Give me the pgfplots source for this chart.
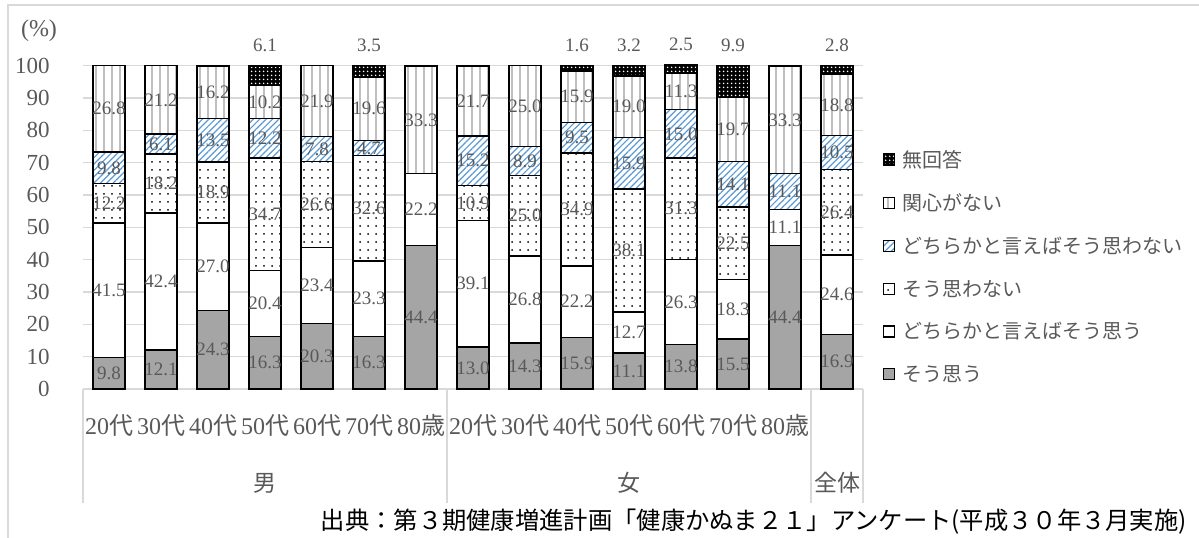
\documentclass[border=0pt]{standalone}
\usepackage{pgfplots}
\pgfplotsset{compat=1.18}
\usepackage{pgfplotstable}
\usetikzlibrary{patterns.meta}
\usepackage{fontspec}
\setmainfont{Liberation Serif}
\newfontfamily\cjk{Noto Sans CJK JP}

\definecolor{labgray}{HTML}{595959}
\definecolor{gridgray}{HTML}{D9D9D9}
\definecolor{solidgray}{HTML}{A5A5A5}
\definecolor{hatchblue}{HTML}{5B9BD5}
\definecolor{linegray}{HTML}{BFBFBF}

\newcommand\fsz[1]{\fontsize{#1bp}{#1bp}\selectfont}

% columns: そう思う, どちらかと言えばそう思う, そう思わない,
%          どちらかと言えばそう思わない, 関心がない, 無回答
\pgfplotstableread{
x  s1    s2    s3    s4    s5    s6
0  9.8   41.5  12.2  9.8   26.8  0
1  12.1  42.4  18.2  6.1   21.2  0
2  24.3  27.0  18.9  13.5  16.2  0
3  16.3  20.4  34.7  12.2  10.2  6.1
4  20.3  23.4  26.6  7.8   21.9  0
5  16.3  23.3  32.6  4.7   19.6  3.5
6  44.4  22.2  0     0     33.3  0
7  13.0  39.1  10.9  15.2  21.7  0
8  14.3  26.8  25.0  8.9   25.0  0
9  15.9  22.2  34.9  9.5   15.9  1.6
10 11.1  12.7  38.1  15.9  19.0  3.2
11 13.8  26.3  31.3  15.0  11.3  2.5
12 15.5  18.3  22.5  14.1  19.7  9.9
13 44.4  11.1  0     11.1  33.3  0
14 16.9  24.6  26.4  10.5  18.8  2.8
}\data

\pgfplotsset{
  hidezero/.style={
    nodes near coords={\pgfmathfloatifflags{\pgfplotspointmeta}{0}{}{\pgfmathprintnumber[fixed,fixed zerofill,precision=1]{\pgfplotspointmeta}}},
  },
  % stacked labels sit at the middle of their segment
  midlabel/.style={
    hidezero,
    nodes near coords style={font=\fsz{19}, text=labgray, anchor=center, inner sep=0pt},
  },
  % the no-answer values are written above the bar
  toplabel/.style={
    hidezero,
    visualization depends on=rawy \as \rawy,
    nodes near coords style={font=\fsz{19}, text=labgray, anchor=center, inner sep=0pt,
      shift={(axis direction cs:0,\rawy/2)}, yshift=20.7bp},
  },
}

\begin{document}
\begin{tikzpicture}
\begin{axis}[
  at={(83bp,149bp)}, anchor=south west,
  scale only axis, width=780bp, height=323.3bp,
  ybar stacked, bar width=32bp,
  xmin=-0.5, xmax=14.5, ymin=0, ymax=100,
  enlargelimits=false, clip=false,
  axis x line=bottom, axis y line=left,
  x axis line style={gridgray, line width=1.3bp, -},
  y axis line style={draw=none},
  ytick={0,10,...,100}, xtick=data,
  xticklabels={20{\cjk 代},30{\cjk 代},40{\cjk 代},50{\cjk 代},60{\cjk 代},70{\cjk 代},80{\cjk 歳},
               20{\cjk 代},30{\cjk 代},40{\cjk 代},50{\cjk 代},60{\cjk 代},70{\cjk 代},80{\cjk 歳},{}},
  tick style={draw=none},
  ymajorgrids, grid style={gridgray, line width=1.3bp},
  /pgf/number format/assume math mode=true,
  yticklabel style={font=\fsz{23}, text=labgray, inner sep=0pt, anchor=east, xshift=-31bp},
  xticklabel style={font=\fsz{24}, text=labgray, inner sep=0pt, anchor=center, yshift=-34bp},
  every axis plot/.append style={draw=black, line width=1.5bp},
  legend style={at={(1.025,0.379)}, anchor=west, draw=none, fill=none,
    font=\cjk\fsz{20}, text=labgray, row sep=21bp, inner sep=0pt,
    cells={anchor=west}},
  legend image code/.code={\draw[#1, line width=1.2bp] (0bp,-5.5bp) rectangle (11bp,5.5bp);
    \path (16bp,0bp);},
  reverse legend,
]
\addplot[fill=solidgray, midlabel] table[x=x, y=s1] {\data};
\addplot[fill=white, midlabel] table[x=x, y=s2] {\data};
\addplot[preaction={fill=white}, pattern={Dots[radius=1bp, distance=8bp]}, pattern color=black, midlabel] table[x=x, y=s3] {\data};
\addplot[preaction={fill=white}, pattern={Lines[angle=45, distance=4.5bp, line width=1.2bp]}, pattern color=hatchblue, midlabel] table[x=x, y=s4] {\data};
\addplot[preaction={fill=white}, pattern={Lines[angle=90, distance=8bp, line width=2bp]}, pattern color=linegray, midlabel] table[x=x, y=s5] {\data};
\addplot[preaction={fill=black}, pattern={Dots[radius=0.9bp, distance=3.6bp]}, pattern color=white, toplabel] table[x=x, y=s6] {\data};
\legend{そう思う, どちらかと言えばそう思う, そう思わない, どちらかと言えばそう思わない, 関心がない, 無回答}

% category boxes below the axis
\draw[gridgray, line width=1.3bp] (axis cs:-0.5,0) -- ([yshift=-114bp]axis cs:-0.5,0);
\draw[gridgray, line width=1.3bp] (axis cs:6.5,0) -- ([yshift=-114bp]axis cs:6.5,0);
\draw[gridgray, line width=1.3bp] (axis cs:13.5,0) -- ([yshift=-114bp]axis cs:13.5,0);
\draw[gridgray, line width=1.3bp] (axis cs:14.5,0) -- ([yshift=-114bp]axis cs:14.5,0);
\node[font=\cjk\fsz{23}, text=labgray] at ([yshift=-94bp]axis cs:3,0) {男};
\node[font=\cjk\fsz{23}, text=labgray] at ([yshift=-94bp]axis cs:10,0) {女};
\node[font=\cjk\fsz{23}, text=labgray] at ([yshift=-94bp]axis cs:14,0) {全体};
\end{axis}

\node[font=\fsz{24}, text=labgray] at (39bp,507bp) {(\%)};
\node[font=\cjk\fsz{24.3}, text=black, anchor=east, inner sep=0pt] at (1187bp,16bp)
  {出典：第３期健康増進計画「健康かぬま２１」アンケート(平成３０年３月実施)};
\draw[gridgray, line width=1.5bp] (8bp,-5bp) -- (8bp,533bp) -- (1210bp,533bp);

\pgfresetboundingbox
\useasboundingbox (0,0) rectangle (1199bp,538bp);
\end{tikzpicture}
\end{document}
